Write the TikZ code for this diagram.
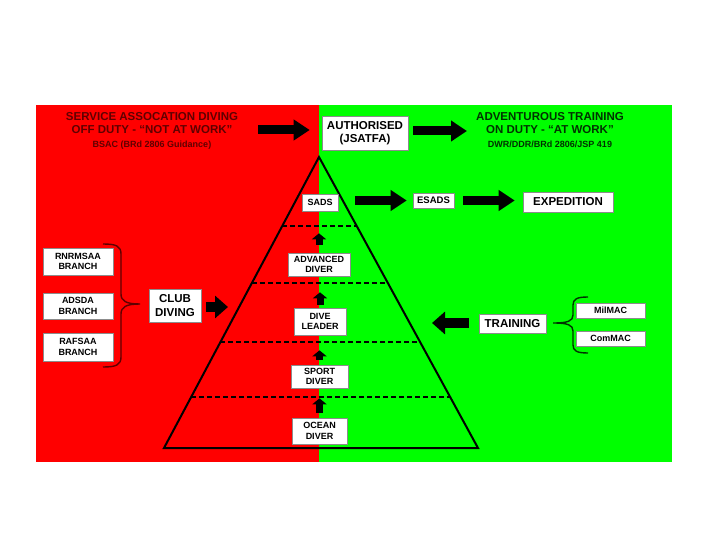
\documentclass[tikz,border=0pt]{standalone}
\usepackage{fontspec}
\setmainfont{Liberation Sans}
\usetikzlibrary{arrows.meta,calc}
\definecolor{bgred}{RGB}{255,0,0}
\definecolor{bggreen}{RGB}{0,255,0}
\definecolor{darkred}{RGB}{95,0,0}
\definecolor{darkgreen}{RGB}{0,50,0}
\begin{document}
\begin{tikzpicture}[x=1pt,y=-1pt,
 box/.style={draw=black!45, line width=0.6pt, fill=white, inner sep=0pt, align=center, font=\bfseries\fontsize{9}{10.5}\selectfont},
 bigbox/.style={box, font=\bfseries\fontsize{11.5}{13.5}\selectfont},
 bigarrow/.style={line width=9pt, -{Triangle[length=16pt,width=20pt]}},
 midarrow/.style={line width=10pt, -{Triangle[length=13pt,width=22pt]}},
 uparrow/.style={line width=7pt, -{Triangle[length=6pt,width=14pt]}},
 tier/.style={dash pattern=on 5pt off 3pt, line width=1.5pt},
 titlebig/.style={font=\bfseries\fontsize{11.5}{13}\selectfont, inner sep=0pt, anchor=base},
 titlesmall/.style={font=\bfseries\fontsize{9}{10}\selectfont, inner sep=0pt, anchor=base},
 bracestyle/.style={line width=1.4pt},
]
\useasboundingbox (0,0) rectangle (720,540);
% backgrounds
\fill[bgred] (36,105) rectangle (319,462);
\fill[bggreen] (319,105) rectangle (672,462);

% titles
\node[titlebig, text=darkred] (rt1) at (152,121) {SERVICE ASSOCATION DIVING};
\node[titlebig, text=darkred] (rt2) at (152,133.5) {OFF DUTY - “NOT AT WORK”};
\node[titlesmall, text=darkred] (rt3) at (152,147.5) {BSAC (BRd 2806 Guidance)};
\node[titlebig, text=darkgreen] (gt1) at (550,121) {ADVENTUROUS TRAINING};
\node[titlebig, text=darkgreen] (gt2) at (550,134) {ON DUTY - “AT WORK”};
\node[titlesmall, text=darkgreen] (gt3) at (550,147.5) {DWR/DDR/BRd 2806/JSP 419};

% pyramid
\coordinate (apex) at (319,157);
\coordinate (bl) at (164,448);
\coordinate (br) at (478,448);
\draw[line width=2pt, line join=miter] (apex) -- (bl) -- (br) -- cycle;
\foreach \t in {0.2371,0.4330,0.6357,0.8247}{
  \draw[tier] ($(apex)!\t!(bl)$) -- ($(apex)!\t!(br)$);
}

% boxes
\node[bigbox, minimum width=86pt, minimum height=34pt] (auth) at (365,133) {AUTHORISED\\(JSATFA)};
\node[box, minimum width=36pt, minimum height=17pt] (sads) at (320,202.5) {SADS};
\node[box, minimum width=41pt, minimum height=15pt, font=\bfseries\fontsize{9.5}{11}\selectfont] (esads) at (433.5,200.5) {ESADS};
\node[bigbox, minimum width=90pt, minimum height=20pt] (exped) at (568,202) {EXPEDITION};
\node[box, minimum width=62pt, minimum height=23pt] (adv) at (319,264.5) {ADVANCED\\DIVER};
\node[box, minimum width=52pt, minimum height=27pt] (lead) at (320,321.5) {DIVE\\LEADER};
\node[box, minimum width=57pt, minimum height=23pt] (sport) at (319.5,376.5) {SPORT\\DIVER};
\node[box, minimum width=55pt, minimum height=26pt] (ocean) at (319.5,431) {OCEAN\\DIVER};
\node[bigbox, minimum width=52pt, minimum height=33pt] (club) at (175,305.5) {CLUB\\DIVING};
\node[box, minimum width=70pt, minimum height=27pt] (rnr) at (78,261.5) {RNRMSAA\\BRANCH};
\node[box, minimum width=70pt, minimum height=26pt] (adsda) at (78,306) {ADSDA\\BRANCH};
\node[box, minimum width=70pt, minimum height=28pt] (rafsaa) at (78,347) {RAFSAA\\BRANCH};
\node[bigbox, minimum width=67pt, minimum height=19pt] (training) at (512.5,323.5) {TRAINING};
\node[box, minimum width=69pt, minimum height=15pt] (milmac) at (610.5,310.5) {MilMAC};
\node[box, minimum width=69pt, minimum height=15pt] (commac) at (610.5,338.5) {ComMAC};

% free ends
\coordinate (rstart) at (258,130);
\coordinate (gend) at (467,131);
\coordinate (clubend) at (228,307);
\coordinate (trainend) at (432,323);
\coordinate (lbtip) at (140,304);
\coordinate (rbtip) at (553,323);

% big arrows
\draw[bigarrow, shorten >=12pt] (rstart) -- (auth.west |- rstart);
\draw[bigarrow, shorten <=5pt] (auth.east |- gend) -- (gend);
\draw[bigarrow, shorten <=17pt, shorten >=6pt] (sads.east |- esads.west) -- (esads.west);
\draw[bigarrow, shorten <=9pt, shorten >=8pt] (esads.east) -- (exped.west |- esads.east);
\draw[midarrow, shorten <=5pt] (club.east |- clubend) -- (clubend);
\draw[midarrow, shorten <=10pt] (training.west |- trainend) -- (trainend);

% up arrows
\draw[uparrow, shorten <=5pt, shorten >=10pt] (ocean.north) -- (ocean.north |- sport.south);
\draw[uparrow, shorten <=5pt, shorten >=15pt] (sport.north) -- (sport.north |- lead.south);
\draw[uparrow, shorten <=3pt, shorten >=16pt] (lead.north) -- (lead.north |- adv.south);
\draw[uparrow, shorten <=8pt, shorten >=22pt] (adv.north) -- (adv.north |- sads.south);

% braces
\draw[bracestyle, darkred] (103,244) .. controls (116,244) and (121,246) .. (121,254) -- (121,294)
  .. controls (121,301) and (126,304) .. (lbtip)
  .. controls (126,304) and (121,307) .. (121,314) -- (121,357)
  .. controls (121,365) and (116,367) .. (103,367);
\draw[bracestyle, darkgreen] (588,297) .. controls (577,297) and (573,299) .. (573,305) -- (573,315)
  .. controls (573,321) and (568,323) .. (rbtip)
  .. controls (568,323) and (573,325) .. (573,331) -- (573,345)
  .. controls (573,351) and (577,353) .. (588,353);
\end{tikzpicture}
\end{document}
